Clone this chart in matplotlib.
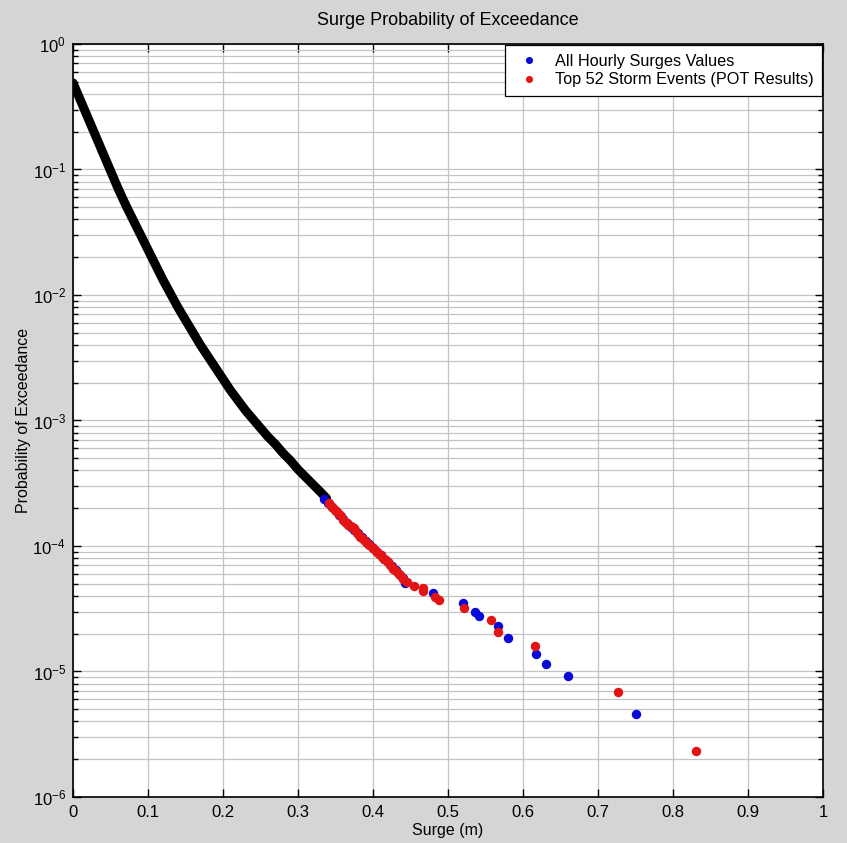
import matplotlib
matplotlib.use("Agg")
import matplotlib.pyplot as plt
import numpy as np
from matplotlib.ticker import LogLocator, NullFormatter

plt.rcParams['font.family'] = ['Liberation Sans', 'DejaVu Sans']
plt.rcParams['mathtext.default'] = 'regular'
plt.rcParams['axes.unicode_minus'] = False

# Empirical exceedance curve (dense hourly values, drawn as a thick black trace)
curve_x = [0.0, 0.01, 0.02, 0.03, 0.04, 0.05, 0.06, 0.07, 0.08, 0.09, 0.10,
           0.11, 0.12, 0.13, 0.14, 0.15, 0.16, 0.17, 0.18, 0.19, 0.20, 0.21,
           0.22, 0.23, 0.24, 0.25, 0.26, 0.27, 0.28, 0.29, 0.30, 0.31, 0.32,
           0.33, 0.338]
curve_logp = [-0.31, -0.45, -0.59, -0.73, -0.87, -1.01, -1.15, -1.28, -1.40,
              -1.52, -1.64, -1.76, -1.88, -1.99, -2.10, -2.20, -2.30, -2.40,
              -2.49, -2.58, -2.67, -2.76, -2.84, -2.92, -2.99, -3.06, -3.13,
              -3.19, -3.26, -3.32, -3.39, -3.45, -3.51, -3.57, -3.62]

# All hourly surge values (tail visible as blue dots)
blue_x = [0.335, 0.340, 0.345, 0.350, 0.355, 0.360, 0.365, 0.370, 0.375, 0.380,
          0.385, 0.390, 0.395, 0.400, 0.405, 0.410, 0.415, 0.420, 0.425, 0.430,
          0.435, 0.440, 0.443, 0.480, 0.520, 0.536, 0.541, 0.566, 0.580, 0.617,
          0.630, 0.660, 0.750]
blue_p = [2.35e-4, 2.2e-4, 2.05e-4, 1.9e-4, 1.78e-4, 1.65e-4, 1.52e-4, 1.42e-4,
          1.33e-4, 1.26e-4, 1.18e-4, 1.1e-4, 1.03e-4, 9.6e-5, 9.0e-5, 8.4e-5,
          7.9e-5, 7.4e-5, 6.9e-5, 6.4e-5, 6.0e-5, 5.6e-5, 5.04e-5, 4.2e-5,
          3.49e-5, 3.0e-5, 2.75e-5, 2.31e-5, 1.84e-5, 1.39e-5, 1.15e-5, 9.2e-6,
          4.6e-6]

# Top 52 storm events (POT results)
red_x = [0.341, 0.344, 0.347, 0.349, 0.352, 0.354, 0.357, 0.360, 0.362, 0.365,
         0.367, 0.370, 0.372, 0.374, 0.376, 0.378, 0.381, 0.383, 0.385, 0.388,
         0.390, 0.392, 0.395, 0.398, 0.400, 0.403, 0.405, 0.408, 0.410, 0.412,
         0.415, 0.417, 0.420, 0.423, 0.425, 0.427, 0.430, 0.434, 0.437, 0.440,
         0.445, 0.454, 0.467, 0.466, 0.483, 0.488, 0.521, 0.557, 0.567, 0.616,
         0.726, 0.830]
red_p = [2.2e-4, 2.1e-4, 2.0e-4, 1.95e-4, 1.85e-4, 1.8e-4, 1.72e-4, 1.62e-4,
         1.55e-4, 1.52e-4, 1.48e-4, 1.45e-4, 1.42e-4, 1.38e-4, 1.33e-4, 1.28e-4,
         1.22e-4, 1.19e-4, 1.16e-4, 1.12e-4, 1.08e-4, 1.05e-4, 1.02e-4, 9.9e-5,
         9.6e-5, 9.3e-5, 9.0e-5, 8.7e-5, 8.4e-5, 8.2e-5, 7.9e-5, 7.7e-5, 7.4e-5,
         7.1e-5, 6.8e-5, 6.6e-5, 6.3e-5, 6.0e-5, 5.8e-5, 5.5e-5, 5.2e-5, 4.8e-5,
         4.6e-5, 4.38e-5, 3.9e-5, 3.7e-5, 3.19e-5, 2.55e-5, 2.07e-5, 1.61e-5,
         6.9e-6, 2.31e-6]

x_ticks = [0, 0.1, 0.2, 0.3, 0.4, 0.5, 0.6, 0.7, 0.8, 0.9, 1]
x_tick_labels = ['0', '0.1', '0.2', '0.3', '0.4', '0.5', '0.6', '0.7', '0.8', '0.9', '1']

fig = plt.figure(figsize=(8.47, 8.43), dpi=100, facecolor='#d5d5d5')
ax = fig.add_axes([0.0862, 0.0546, 0.8855, 0.8932])
ax.set_facecolor('white')

ax.plot(curve_x, [10 ** v for v in curve_logp], color='black', lw=6.5,
        solid_capstyle='round', zorder=3)
ax.plot(blue_x, blue_p, 'o', color='#0a0ad8', ms=6.8, mec='none', zorder=4,
        label='All Hourly Surges Values')
ax.plot(red_x, red_p, 'o', color='#e31414', ms=6.8, mec='none', zorder=5,
        label='Top 52 Storm Events (POT Results)')

ax.set_yscale('log')
ax.set_xlim(0, 1)
ax.set_ylim(1e-6, 1)
ax.set_xticks(x_ticks)
ax.set_xticklabels(x_tick_labels)
ax.yaxis.set_major_locator(LogLocator(base=10, numticks=10))
ax.yaxis.set_minor_locator(LogLocator(base=10, subs=np.arange(2, 10), numticks=20))
ax.yaxis.set_minor_formatter(NullFormatter())

ax.grid(True, which='major', axis='both', color='#c4c4c4', lw=0.9)
ax.grid(True, which='minor', axis='y', color='#c4c4c4', lw=0.9)
ax.set_axisbelow(True)

ax.tick_params(which='both', direction='in', top=True, right=True,
               labelsize=12, colors='black', width=1.0)
ax.tick_params(which='major', length=6, pad=6)
ax.tick_params(axis='y', which='major', pad=5)
ax.tick_params(which='minor', length=3.5)
for s in ax.spines.values():
    s.set_linewidth(1.2)
    s.set_color('black')

ax.set_title('Surge Probability of Exceedance', fontsize=13, pad=14)
ax.set_xlabel('Surge (m)', fontsize=11.5, labelpad=2)
ax.set_ylabel('Probability of Exceedance', fontsize=11.5)
ax.yaxis.set_label_coords(-0.056, 0.5)

leg = ax.legend(loc='upper right', fontsize=11.7, frameon=True, fancybox=False,
                edgecolor='black', framealpha=1, borderaxespad=0.05,
                markerscale=0.75, handletextpad=0.7, borderpad=0.55,
                labelspacing=0.22, handlelength=1.8)
leg.get_frame().set_linewidth(0.9)

fig.savefig('out.png', dpi=100, facecolor=fig.get_facecolor())
